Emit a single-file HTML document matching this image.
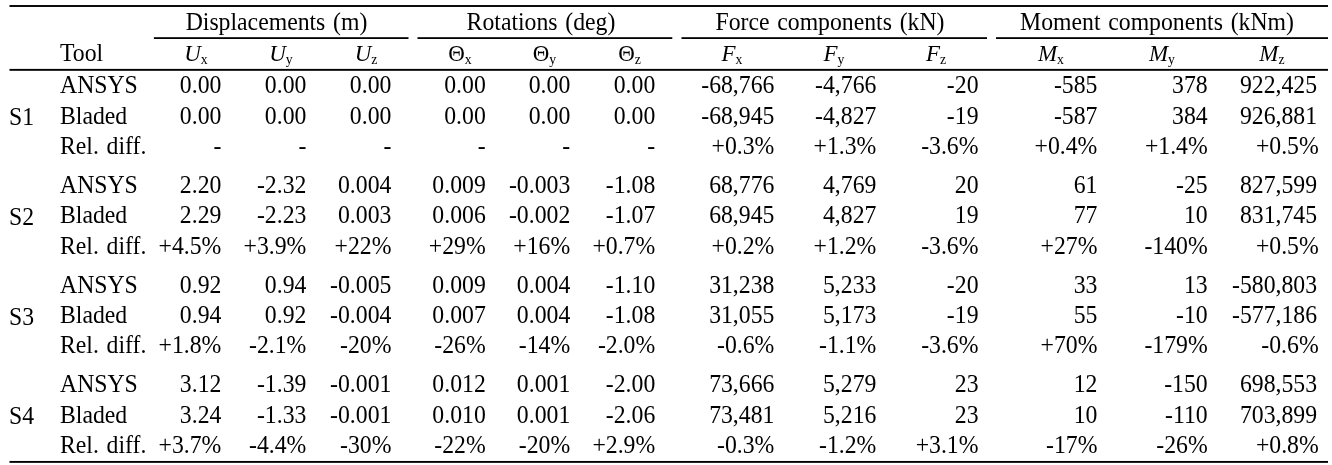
<!DOCTYPE html>
<html lang="en">
<head>
<meta charset="utf-8">
<title>Table</title>
<style>
html,body{margin:0;padding:0;background:#fff;}
body{width:1332px;height:465px;overflow:hidden;}
svg{display:block;}
text{word-spacing:1.86px;font-family:"Liberation Serif","DejaVu Serif",serif;font-size:24.6px;fill:#000;white-space:pre;}
.i{font-style:italic;}
.s{font-size:14.3px;}
.h{font-size:23.8px;}
rect{fill:#000;}
</style>
</head>
<body>
<svg width="1332" height="465" viewBox="0 0 1332 465">
<rect x="9.50" y="5.05" width="1318.50" height="1.90"/>
<rect x="9.50" y="68.90" width="1318.50" height="1.90"/>
<rect x="9.50" y="460.95" width="1318.50" height="1.90"/>
<rect x="153.90" y="37.20" width="254.60" height="1.80"/>
<rect x="417.50" y="37.20" width="254.80" height="1.80"/>
<rect x="681.50" y="37.20" width="305.50" height="1.80"/>
<rect x="996.00" y="37.20" width="332.00" height="1.80"/>
<text transform="translate(276.50,30.00) scale(0.9655,1)" text-anchor="middle">Displacements (m)</text>
<text transform="translate(541.00,30.00) scale(0.9655,1)" text-anchor="middle">Rotations (deg)</text>
<text transform="translate(830.00,30.00) scale(0.9655,1)" text-anchor="middle">Force components (kN)</text>
<text transform="translate(1157.00,30.00) scale(0.9655,1)" text-anchor="middle">Moment components (kNm)</text>
<text transform="translate(60.00,61.00) scale(0.9655,1)">Tool</text>
<text transform="translate(196.00,61.00) scale(0.9655,1)" text-anchor="middle"><tspan class="i h">U</tspan><tspan class="s" dy="3">x</tspan></text>
<text transform="translate(281.00,61.00) scale(0.9655,1)" text-anchor="middle"><tspan class="i h">U</tspan><tspan class="s" dy="3">y</tspan></text>
<text transform="translate(366.00,61.00) scale(0.9655,1)" text-anchor="middle"><tspan class="i h">U</tspan><tspan class="s" dy="3">z</tspan></text>
<text transform="translate(460.00,61.00) scale(0.9655,1)" text-anchor="middle"><tspan class="h">Θ</tspan><tspan class="s" dy="3">x</tspan></text>
<text transform="translate(544.50,61.00) scale(0.9655,1)" text-anchor="middle"><tspan class="h">Θ</tspan><tspan class="s" dy="3">y</tspan></text>
<text transform="translate(629.50,61.00) scale(0.9655,1)" text-anchor="middle"><tspan class="h">Θ</tspan><tspan class="s" dy="3">z</tspan></text>
<text transform="translate(732.00,61.00) scale(0.9655,1)" text-anchor="middle"><tspan class="i h">F</tspan><tspan class="s" dy="3">x</tspan></text>
<text transform="translate(834.00,61.00) scale(0.9655,1)" text-anchor="middle"><tspan class="i h">F</tspan><tspan class="s" dy="3">y</tspan></text>
<text transform="translate(936.00,61.00) scale(0.9655,1)" text-anchor="middle"><tspan class="i h">F</tspan><tspan class="s" dy="3">z</tspan></text>
<text transform="translate(1051.00,61.00) scale(0.9655,1)" text-anchor="middle"><tspan class="i h">M</tspan><tspan class="s" dy="3">x</tspan></text>
<text transform="translate(1162.00,61.00) scale(0.9655,1)" text-anchor="middle"><tspan class="i h">M</tspan><tspan class="s" dy="3">y</tspan></text>
<text transform="translate(1272.00,61.00) scale(0.9655,1)" text-anchor="middle"><tspan class="i h">M</tspan><tspan class="s" dy="3">z</tspan></text>
<text transform="translate(9.00,125.00) scale(0.9655,1)">S1</text>
<text transform="translate(60.00,93.00) scale(0.9655,1)">ANSYS</text>
<text transform="translate(221.40,93.00) scale(0.9655,1)" text-anchor="end">0.00</text>
<text transform="translate(306.40,93.00) scale(0.9655,1)" text-anchor="end">0.00</text>
<text transform="translate(391.40,93.00) scale(0.9655,1)" text-anchor="end">0.00</text>
<text transform="translate(485.75,93.00) scale(0.9655,1)" text-anchor="end">0.00</text>
<text transform="translate(570.25,93.00) scale(0.9655,1)" text-anchor="end">0.00</text>
<text transform="translate(655.25,93.00) scale(0.9655,1)" text-anchor="end">0.00</text>
<text transform="translate(774.40,93.00) scale(0.9655,1)" text-anchor="end">-68,766</text>
<text transform="translate(876.40,93.00) scale(0.9655,1)" text-anchor="end">-4,766</text>
<text transform="translate(978.50,93.00) scale(0.9655,1)" text-anchor="end">-20</text>
<text transform="translate(1097.40,93.00) scale(0.9655,1)" text-anchor="end">-585</text>
<text transform="translate(1207.70,93.00) scale(0.9655,1)" text-anchor="end">378</text>
<text transform="translate(1317.10,93.00) scale(0.9655,1)" text-anchor="end">922,425</text>
<text transform="translate(60.00,124.00) scale(0.9655,1)">Bladed</text>
<text transform="translate(221.40,124.00) scale(0.9655,1)" text-anchor="end">0.00</text>
<text transform="translate(306.40,124.00) scale(0.9655,1)" text-anchor="end">0.00</text>
<text transform="translate(391.40,124.00) scale(0.9655,1)" text-anchor="end">0.00</text>
<text transform="translate(485.75,124.00) scale(0.9655,1)" text-anchor="end">0.00</text>
<text transform="translate(570.25,124.00) scale(0.9655,1)" text-anchor="end">0.00</text>
<text transform="translate(655.25,124.00) scale(0.9655,1)" text-anchor="end">0.00</text>
<text transform="translate(774.40,124.00) scale(0.9655,1)" text-anchor="end">-68,945</text>
<text transform="translate(876.40,124.00) scale(0.9655,1)" text-anchor="end">-4,827</text>
<text transform="translate(978.50,124.00) scale(0.9655,1)" text-anchor="end">-19</text>
<text transform="translate(1097.40,124.00) scale(0.9655,1)" text-anchor="end">-587</text>
<text transform="translate(1207.70,124.00) scale(0.9655,1)" text-anchor="end">384</text>
<text transform="translate(1317.10,124.00) scale(0.9655,1)" text-anchor="end">926,881</text>
<text transform="translate(60.00,154.00) scale(0.9655,1)">Rel. diff.</text>
<text transform="translate(221.40,154.00) scale(0.9655,1)" text-anchor="end">-</text>
<text transform="translate(306.40,154.00) scale(0.9655,1)" text-anchor="end">-</text>
<text transform="translate(391.40,154.00) scale(0.9655,1)" text-anchor="end">-</text>
<text transform="translate(485.75,154.00) scale(0.9655,1)" text-anchor="end">-</text>
<text transform="translate(570.25,154.00) scale(0.9655,1)" text-anchor="end">-</text>
<text transform="translate(655.25,154.00) scale(0.9655,1)" text-anchor="end">-</text>
<text transform="translate(774.40,154.00) scale(0.9655,1)" text-anchor="end">+0.3%</text>
<text transform="translate(876.40,154.00) scale(0.9655,1)" text-anchor="end">+1.3%</text>
<text transform="translate(978.50,154.00) scale(0.9655,1)" text-anchor="end">-3.6%</text>
<text transform="translate(1097.40,154.00) scale(0.9655,1)" text-anchor="end">+0.4%</text>
<text transform="translate(1207.70,154.00) scale(0.9655,1)" text-anchor="end">+1.4%</text>
<text transform="translate(1318.70,154.00) scale(0.9655,1)" text-anchor="end">+0.5%</text>
<text transform="translate(9.00,225.00) scale(0.9655,1)">S2</text>
<text transform="translate(60.00,193.00) scale(0.9655,1)">ANSYS</text>
<text transform="translate(221.40,193.00) scale(0.9655,1)" text-anchor="end">2.20</text>
<text transform="translate(306.40,193.00) scale(0.9655,1)" text-anchor="end">-2.32</text>
<text transform="translate(391.40,193.00) scale(0.9655,1)" text-anchor="end">0.004</text>
<text transform="translate(485.75,193.00) scale(0.9655,1)" text-anchor="end">0.009</text>
<text transform="translate(570.25,193.00) scale(0.9655,1)" text-anchor="end">-0.003</text>
<text transform="translate(655.25,193.00) scale(0.9655,1)" text-anchor="end">-1.08</text>
<text transform="translate(774.40,193.00) scale(0.9655,1)" text-anchor="end">68,776</text>
<text transform="translate(876.40,193.00) scale(0.9655,1)" text-anchor="end">4,769</text>
<text transform="translate(978.50,193.00) scale(0.9655,1)" text-anchor="end">20</text>
<text transform="translate(1097.40,193.00) scale(0.9655,1)" text-anchor="end">61</text>
<text transform="translate(1207.70,193.00) scale(0.9655,1)" text-anchor="end">-25</text>
<text transform="translate(1317.10,193.00) scale(0.9655,1)" text-anchor="end">827,599</text>
<text transform="translate(60.00,223.00) scale(0.9655,1)">Bladed</text>
<text transform="translate(221.40,223.00) scale(0.9655,1)" text-anchor="end">2.29</text>
<text transform="translate(306.40,223.00) scale(0.9655,1)" text-anchor="end">-2.23</text>
<text transform="translate(391.40,223.00) scale(0.9655,1)" text-anchor="end">0.003</text>
<text transform="translate(485.75,223.00) scale(0.9655,1)" text-anchor="end">0.006</text>
<text transform="translate(570.25,223.00) scale(0.9655,1)" text-anchor="end">-0.002</text>
<text transform="translate(655.25,223.00) scale(0.9655,1)" text-anchor="end">-1.07</text>
<text transform="translate(774.40,223.00) scale(0.9655,1)" text-anchor="end">68,945</text>
<text transform="translate(876.40,223.00) scale(0.9655,1)" text-anchor="end">4,827</text>
<text transform="translate(978.50,223.00) scale(0.9655,1)" text-anchor="end">19</text>
<text transform="translate(1097.40,223.00) scale(0.9655,1)" text-anchor="end">77</text>
<text transform="translate(1207.70,223.00) scale(0.9655,1)" text-anchor="end">10</text>
<text transform="translate(1317.10,223.00) scale(0.9655,1)" text-anchor="end">831,745</text>
<text transform="translate(60.00,254.00) scale(0.9655,1)">Rel. diff.</text>
<text transform="translate(221.40,254.00) scale(0.9655,1)" text-anchor="end">+4.5%</text>
<text transform="translate(306.40,254.00) scale(0.9655,1)" text-anchor="end">+3.9%</text>
<text transform="translate(391.40,254.00) scale(0.9655,1)" text-anchor="end">+22%</text>
<text transform="translate(485.75,254.00) scale(0.9655,1)" text-anchor="end">+29%</text>
<text transform="translate(570.25,254.00) scale(0.9655,1)" text-anchor="end">+16%</text>
<text transform="translate(655.25,254.00) scale(0.9655,1)" text-anchor="end">+0.7%</text>
<text transform="translate(774.40,254.00) scale(0.9655,1)" text-anchor="end">+0.2%</text>
<text transform="translate(876.40,254.00) scale(0.9655,1)" text-anchor="end">+1.2%</text>
<text transform="translate(978.50,254.00) scale(0.9655,1)" text-anchor="end">-3.6%</text>
<text transform="translate(1097.40,254.00) scale(0.9655,1)" text-anchor="end">+27%</text>
<text transform="translate(1207.70,254.00) scale(0.9655,1)" text-anchor="end">-140%</text>
<text transform="translate(1318.70,254.00) scale(0.9655,1)" text-anchor="end">+0.5%</text>
<text transform="translate(9.00,325.00) scale(0.9655,1)">S3</text>
<text transform="translate(60.00,293.00) scale(0.9655,1)">ANSYS</text>
<text transform="translate(221.40,293.00) scale(0.9655,1)" text-anchor="end">0.92</text>
<text transform="translate(306.40,293.00) scale(0.9655,1)" text-anchor="end">0.94</text>
<text transform="translate(391.40,293.00) scale(0.9655,1)" text-anchor="end">-0.005</text>
<text transform="translate(485.75,293.00) scale(0.9655,1)" text-anchor="end">0.009</text>
<text transform="translate(570.25,293.00) scale(0.9655,1)" text-anchor="end">0.004</text>
<text transform="translate(655.25,293.00) scale(0.9655,1)" text-anchor="end">-1.10</text>
<text transform="translate(774.40,293.00) scale(0.9655,1)" text-anchor="end">31,238</text>
<text transform="translate(876.40,293.00) scale(0.9655,1)" text-anchor="end">5,233</text>
<text transform="translate(978.50,293.00) scale(0.9655,1)" text-anchor="end">-20</text>
<text transform="translate(1097.40,293.00) scale(0.9655,1)" text-anchor="end">33</text>
<text transform="translate(1207.70,293.00) scale(0.9655,1)" text-anchor="end">13</text>
<text transform="translate(1317.10,293.00) scale(0.9655,1)" text-anchor="end">-580,803</text>
<text transform="translate(60.00,323.00) scale(0.9655,1)">Bladed</text>
<text transform="translate(221.40,323.00) scale(0.9655,1)" text-anchor="end">0.94</text>
<text transform="translate(306.40,323.00) scale(0.9655,1)" text-anchor="end">0.92</text>
<text transform="translate(391.40,323.00) scale(0.9655,1)" text-anchor="end">-0.004</text>
<text transform="translate(485.75,323.00) scale(0.9655,1)" text-anchor="end">0.007</text>
<text transform="translate(570.25,323.00) scale(0.9655,1)" text-anchor="end">0.004</text>
<text transform="translate(655.25,323.00) scale(0.9655,1)" text-anchor="end">-1.08</text>
<text transform="translate(774.40,323.00) scale(0.9655,1)" text-anchor="end">31,055</text>
<text transform="translate(876.40,323.00) scale(0.9655,1)" text-anchor="end">5,173</text>
<text transform="translate(978.50,323.00) scale(0.9655,1)" text-anchor="end">-19</text>
<text transform="translate(1097.40,323.00) scale(0.9655,1)" text-anchor="end">55</text>
<text transform="translate(1207.70,323.00) scale(0.9655,1)" text-anchor="end">-10</text>
<text transform="translate(1317.10,323.00) scale(0.9655,1)" text-anchor="end">-577,186</text>
<text transform="translate(60.00,353.00) scale(0.9655,1)">Rel. diff.</text>
<text transform="translate(221.40,353.00) scale(0.9655,1)" text-anchor="end">+1.8%</text>
<text transform="translate(306.40,353.00) scale(0.9655,1)" text-anchor="end">-2.1%</text>
<text transform="translate(391.40,353.00) scale(0.9655,1)" text-anchor="end">-20%</text>
<text transform="translate(485.75,353.00) scale(0.9655,1)" text-anchor="end">-26%</text>
<text transform="translate(570.25,353.00) scale(0.9655,1)" text-anchor="end">-14%</text>
<text transform="translate(655.25,353.00) scale(0.9655,1)" text-anchor="end">-2.0%</text>
<text transform="translate(774.40,353.00) scale(0.9655,1)" text-anchor="end">-0.6%</text>
<text transform="translate(876.40,353.00) scale(0.9655,1)" text-anchor="end">-1.1%</text>
<text transform="translate(978.50,353.00) scale(0.9655,1)" text-anchor="end">-3.6%</text>
<text transform="translate(1097.40,353.00) scale(0.9655,1)" text-anchor="end">+70%</text>
<text transform="translate(1207.70,353.00) scale(0.9655,1)" text-anchor="end">-179%</text>
<text transform="translate(1318.70,353.00) scale(0.9655,1)" text-anchor="end">-0.6%</text>
<text transform="translate(9.00,424.00) scale(0.9655,1)">S4</text>
<text transform="translate(60.00,392.00) scale(0.9655,1)">ANSYS</text>
<text transform="translate(221.40,392.00) scale(0.9655,1)" text-anchor="end">3.12</text>
<text transform="translate(306.40,392.00) scale(0.9655,1)" text-anchor="end">-1.39</text>
<text transform="translate(391.40,392.00) scale(0.9655,1)" text-anchor="end">-0.001</text>
<text transform="translate(485.75,392.00) scale(0.9655,1)" text-anchor="end">0.012</text>
<text transform="translate(570.25,392.00) scale(0.9655,1)" text-anchor="end">0.001</text>
<text transform="translate(655.25,392.00) scale(0.9655,1)" text-anchor="end">-2.00</text>
<text transform="translate(774.40,392.00) scale(0.9655,1)" text-anchor="end">73,666</text>
<text transform="translate(876.40,392.00) scale(0.9655,1)" text-anchor="end">5,279</text>
<text transform="translate(978.50,392.00) scale(0.9655,1)" text-anchor="end">23</text>
<text transform="translate(1097.40,392.00) scale(0.9655,1)" text-anchor="end">12</text>
<text transform="translate(1207.70,392.00) scale(0.9655,1)" text-anchor="end">-150</text>
<text transform="translate(1317.10,392.00) scale(0.9655,1)" text-anchor="end">698,553</text>
<text transform="translate(60.00,423.00) scale(0.9655,1)">Bladed</text>
<text transform="translate(221.40,423.00) scale(0.9655,1)" text-anchor="end">3.24</text>
<text transform="translate(306.40,423.00) scale(0.9655,1)" text-anchor="end">-1.33</text>
<text transform="translate(391.40,423.00) scale(0.9655,1)" text-anchor="end">-0.001</text>
<text transform="translate(485.75,423.00) scale(0.9655,1)" text-anchor="end">0.010</text>
<text transform="translate(570.25,423.00) scale(0.9655,1)" text-anchor="end">0.001</text>
<text transform="translate(655.25,423.00) scale(0.9655,1)" text-anchor="end">-2.06</text>
<text transform="translate(774.40,423.00) scale(0.9655,1)" text-anchor="end">73,481</text>
<text transform="translate(876.40,423.00) scale(0.9655,1)" text-anchor="end">5,216</text>
<text transform="translate(978.50,423.00) scale(0.9655,1)" text-anchor="end">23</text>
<text transform="translate(1097.40,423.00) scale(0.9655,1)" text-anchor="end">10</text>
<text transform="translate(1207.70,423.00) scale(0.9655,1)" text-anchor="end">-110</text>
<text transform="translate(1317.10,423.00) scale(0.9655,1)" text-anchor="end">703,899</text>
<text transform="translate(60.00,453.00) scale(0.9655,1)">Rel. diff.</text>
<text transform="translate(221.40,453.00) scale(0.9655,1)" text-anchor="end">+3.7%</text>
<text transform="translate(306.40,453.00) scale(0.9655,1)" text-anchor="end">-4.4%</text>
<text transform="translate(391.40,453.00) scale(0.9655,1)" text-anchor="end">-30%</text>
<text transform="translate(485.75,453.00) scale(0.9655,1)" text-anchor="end">-22%</text>
<text transform="translate(570.25,453.00) scale(0.9655,1)" text-anchor="end">-20%</text>
<text transform="translate(655.25,453.00) scale(0.9655,1)" text-anchor="end">+2.9%</text>
<text transform="translate(774.40,453.00) scale(0.9655,1)" text-anchor="end">-0.3%</text>
<text transform="translate(876.40,453.00) scale(0.9655,1)" text-anchor="end">-1.2%</text>
<text transform="translate(978.50,453.00) scale(0.9655,1)" text-anchor="end">+3.1%</text>
<text transform="translate(1097.40,453.00) scale(0.9655,1)" text-anchor="end">-17%</text>
<text transform="translate(1207.70,453.00) scale(0.9655,1)" text-anchor="end">-26%</text>
<text transform="translate(1318.70,453.00) scale(0.9655,1)" text-anchor="end">+0.8%</text>
</svg>
</body>
</html>
